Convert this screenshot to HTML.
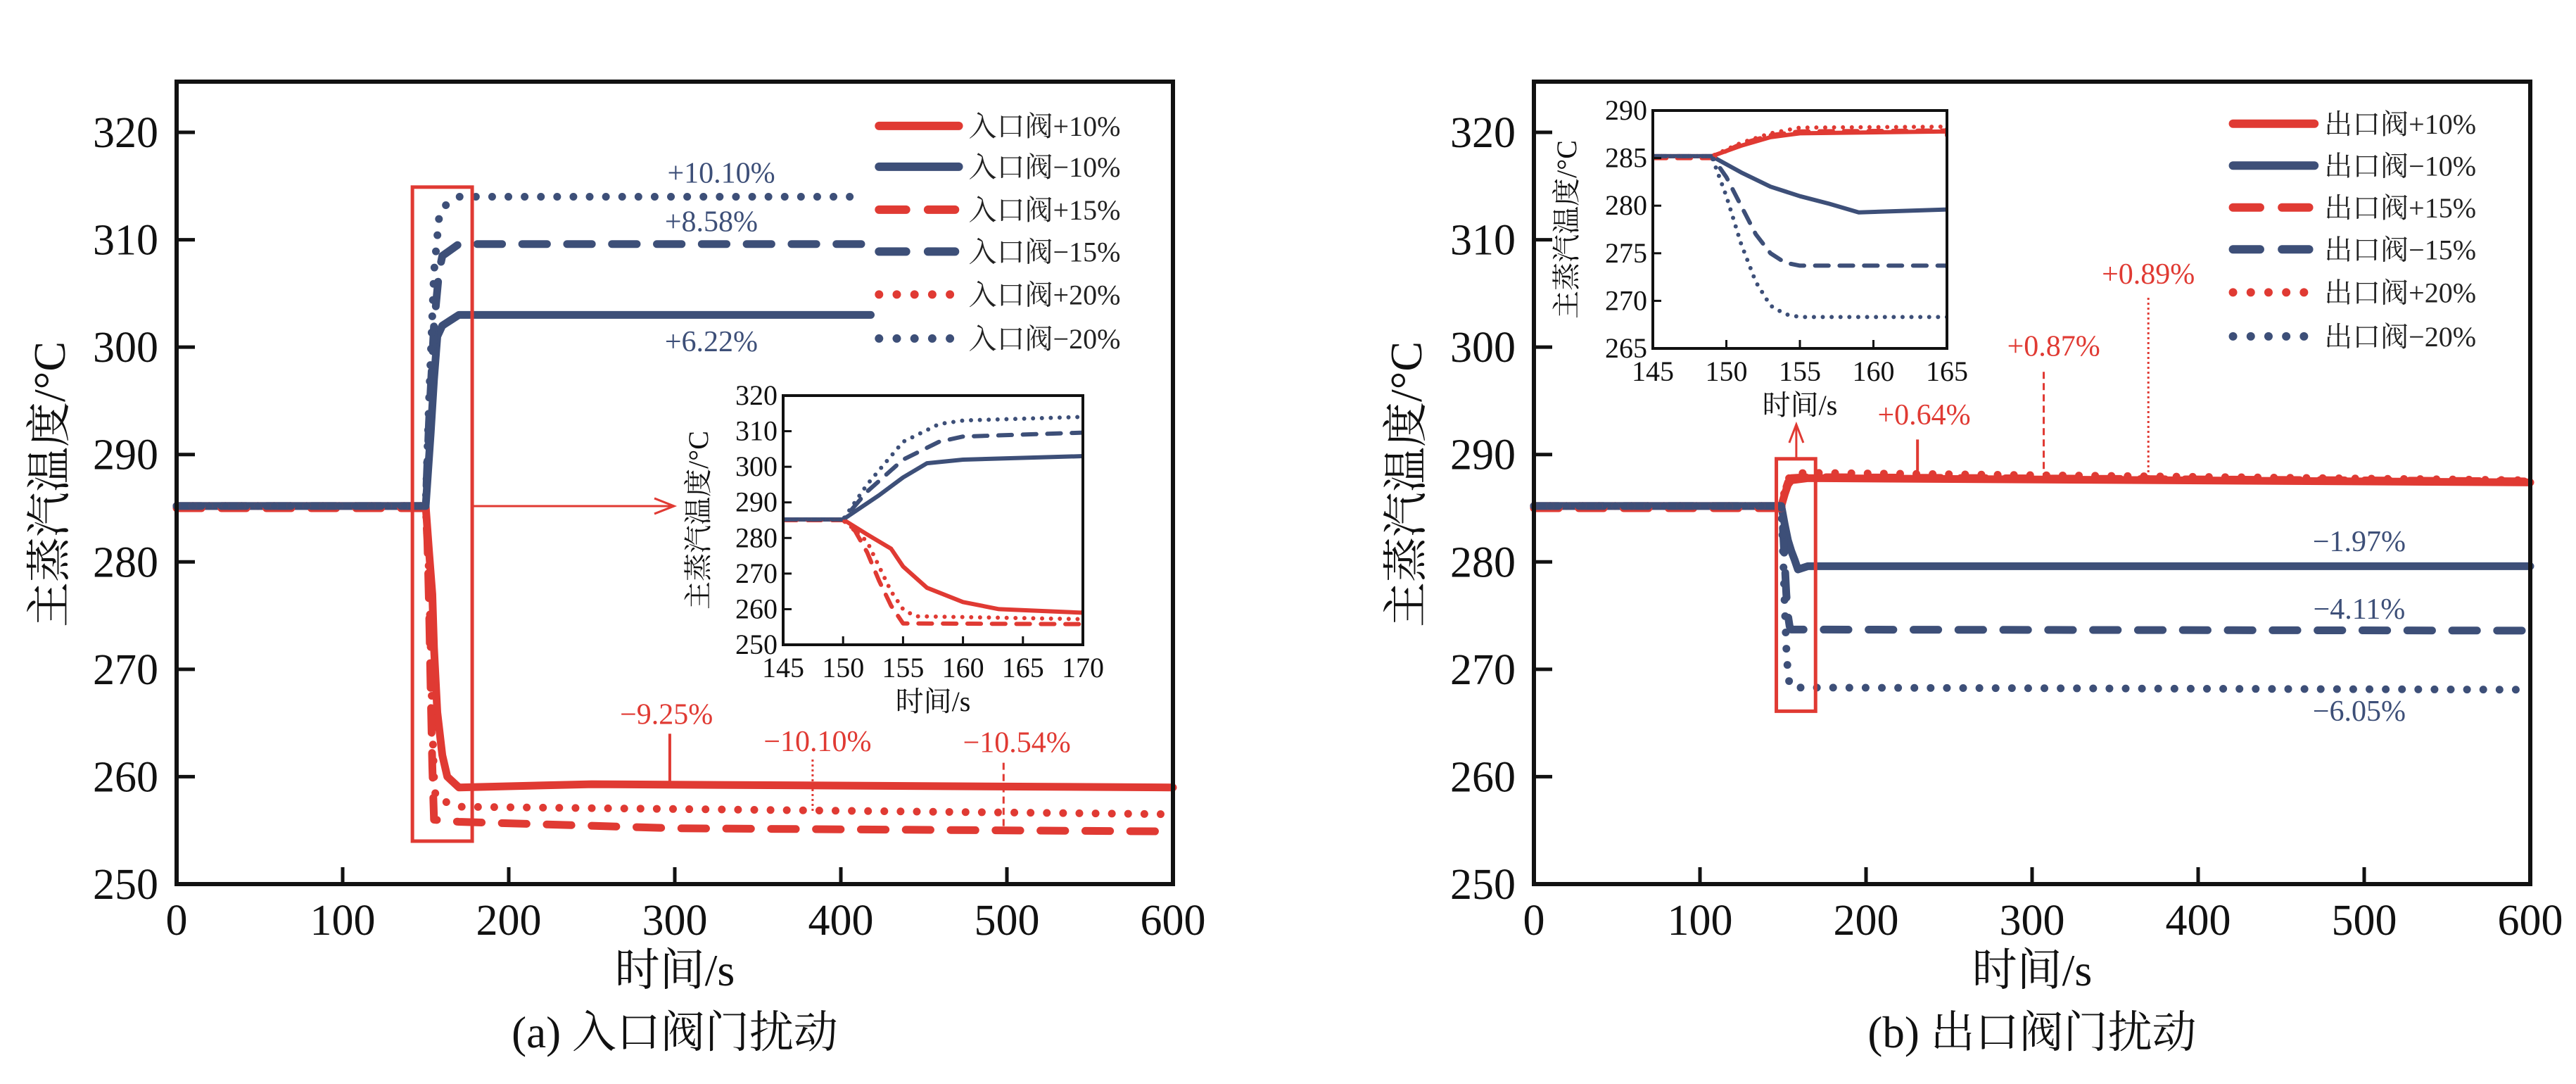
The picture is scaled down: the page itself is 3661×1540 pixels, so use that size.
<!DOCTYPE html>
<html><head><meta charset="utf-8">
<style>
html,body{margin:0;padding:0;background:#fff;}
svg{display:block;font-family:"Liberation Serif","Noto Serif CJK SC",serif;}
</style></head>
<body>
<svg id="fig" width="3661" height="1540" viewBox="0 0 3661 1540" xmlns="http://www.w3.org/2000/svg"></svg>
<script>
// ===== Data: panel (a) inlet valve =====
const aXTicks = [0,100,200,300,400,500,600];
const aYTicks = [250,260,270,280,290,300,310,320];
const aLabels = ["入口阀+10%","入口阀−10%","入口阀+15%","入口阀−15%","入口阀+20%","入口阀−20%"];
const aTimeP10 = [0,150,152,154,155,157,160,163,170,250,600];
const aValP10  = [285.2,285.2,281,277,272,266,262,260,259,259.3,259];
const aTimeM10 = [0,150,153,155,157,160,170,418];
const aValM10  = [285.2,285.2,292,297,301,302,303,303];
const aTimeP15 = [0,150,151,152,153,154,155,170,300,600];
const aValP15  = [285,285,282,276,268,261,256,255.8,255.2,254.9];
const aTimeM15 = [0,150,152,155,158,160,170,415];
const aValM15  = [285.2,285.2,293,302,307,308.5,309.6,309.6];
const aTimeP20 = [0,150,152,153,154,155,156,170,600];
const aValP20  = [285.2,285.2,279,272,265,260,258,257.2,256.5];
const aTimeM20 = [0,150,152,155,158,160,170,415];
const aValM20  = [285.2,285.2,295,307,312,313,314,314];
const aInsetXTicks = [145,150,155,160,165,170];
const aInsetYTicks = [250,260,270,280,290,300,310,320];
// ===== Data: panel (b) outlet valve =====
const bXTicks = [0,100,200,300,400,500,600];
const bYTicks = [250,260,270,280,290,300,310,320];
const bLabels = ["出口阀+10%","出口阀−10%","出口阀+15%","出口阀−15%","出口阀+20%","出口阀−20%"];
const bTimeP10 = [0,149,151,153,155,165,600];
const bValP10  = [285.2,285.2,286.3,287.2,287.6,287.8,287.4];
const bTimeM10 = [0,149,151,153,155,157,159,165,600];
const bValM10  = [285.2,285.2,283.5,282,281,280.2,279.3,279.6,279.6];
const bTimeP15 = [0,149,151,153,155,165,600];
const bValP15  = [285,285,286.5,287.4,287.8,287.9,287.5];
const bTimeM15 = [0,149,150,151,152,153,154,155,165,600];
const bValM15  = [285.2,285.2,283,280,277,275,274,273.7,273.7,273.6];
const bTimeP20 = [0,149,151,153,155,165,600];
const bValP20  = [285.2,285.2,286.6,287.6,288.2,288.3,287.6];
const bTimeM20 = [0,149,150,151,152,153,154,155,165,595];
const bValM20  = [285.2,285.2,281,276,272,269.5,268.6,268.3,268.3,268.1];
const bInsetXTicks = [145,150,155,160,165];
const bInsetYTicks = [265,270,275,280,285,290];

const RED = "#e03a33", BLUE = "#3d4f78";
const NS = "http://www.w3.org/2000/svg";
const svg = document.getElementById("fig");
function mk(tag, attrs, parent, text){
  const e = document.createElementNS(NS, tag);
  for (const k in attrs) e.setAttribute(k, attrs[k]);
  if (text !== undefined) e.textContent = text;
  (parent||svg).appendChild(e);
  return e;
}
function scale(d0,d1,p0,p1){ return v => p0 + (v-d0)*(p1-p0)/(d1-d0); }
function pathD(ts, vs, sx, sy, tmin, tmax){
  let d = "";
  for (let i=0;i<ts.length;i++){
    const t = Math.max(tmin, Math.min(tmax, ts[i]));
    d += (i? "L":"M") + sx(t).toFixed(1) + "," + sy(vs[i]).toFixed(1);
  }
  return d;
}
const styles = [
  {color:RED, dash:null}, {color:BLUE, dash:null},
  {color:RED, dash:"dash"}, {color:BLUE, dash:"dash"},
  {color:RED, dash:"dot"}, {color:BLUE, dash:"dot"}
];
function dashFor(s, w){
  if (s.dash==="dash") return (w*3.2)+" "+(w*2.6);
  if (s.dash==="dot") return "0 "+(w*2.1);
  return "none";
}
function drawLine(g, ts, vs, sx, sy, st, w, tmin, tmax, name){
  const p = mk("path", {d:pathD(ts,vs,sx,sy,tmin,tmax), fill:"none", stroke:st.color,
    "stroke-width":w, "stroke-linecap":"round", "stroke-linejoin":"round",
    "stroke-dasharray":dashFor(st,w)}, g);
  
  
  return p;
}
function text(parent, x, y, s, size, anchor, fill, name, extra){
  const t = mk("text", Object.assign({x:x, y:y, "font-size":size, "text-anchor":anchor||"middle", fill:fill||"#111"}, extra||{}), parent, s);
  
  
  return t;
}

function panel(cfg){
  const g = mk("g", {});
  
  
  const L=cfg.L, R=cfg.R, T=116, B=1256;
  const sx = scale(0,600,L,R), sy = scale(250,320,B,188);
  const series = cfg.series;
  series.forEach((s,i)=>{
    drawLine(g, s[0], s[1], sx, sy, styles[i], 11, 0, 600, "series-"+cfg.key+"-"+i);
  });
  const fr = mk("rect",{x:L,y:T,width:R-L,height:B-T,fill:"none",stroke:"#111","stroke-width":6},g);
  
  
  cfg.xt.forEach(v=>{
    const tk = mk("line",{x1:sx(v),x2:sx(v),y1:B,y2:B-24,stroke:"#111","stroke-width":5},g);
    
    
    text(g, sx(v), B+72, String(v), 62, "middle", "#111", "x-tick-label");
  });
  cfg.yt.forEach(v=>{
    const tk = mk("line",{x1:L,x2:L+26,y1:sy(v),y2:sy(v),stroke:"#111","stroke-width":5},g);
    
    
    text(g, L-26, sy(v)+21, String(v), 62, "end", "#111", "y-tick-label");
  });
  text(g, cfg.ylx, 688, "主蒸汽温度/°C", 64, "middle", "#111", "y-axis-title", {transform:"rotate(-90 "+cfg.ylx+" 688)"});
  text(g, (L+R)/2, 1400, "时间/s", 64, "middle", "#111", "x-axis-title");
  text(g, (L+R)/2, 1488, cfg.caption, 63, "middle", "#111", "panel-caption");
  cfg.labels.forEach((lab,i)=>{
    const yv = cfg.legY[i];
    const st = styles[i];
    const p = mk("line",{x1:sx(cfg.legT[0]),x2:sx(cfg.legT[1]),y1:sy(yv),y2:sy(yv),stroke:st.color,"stroke-width":12,"stroke-linecap":"round","stroke-dasharray":dashFor(st,12)},g);
    
    
    text(g, sx(cfg.legT[1])+14, sy(yv)+14, lab, 40, "start", "#222", "legend-entry");
  });
  const bx = cfg.box;
  const zb = mk("rect",{x:sx(bx[0]),y:sy(bx[3]),width:sx(bx[1])-sx(bx[0]),height:sy(bx[2])-sy(bx[3]),fill:"none",stroke:RED,"stroke-width":5},g);
  
  
  cfg.ann.forEach(a=>{
    text(g, sx(a[0]), sy(a[1]), a[2], 42, "middle", a[3], "annotation-label");
  });
  cfg.markers.forEach(m=>{
    const ln = mk("line",{x1:sx(m[0]),x2:sx(m[0]),y1:sy(m[1]),y2:sy(m[2]),stroke:RED,"stroke-width":m[3]==="solid"?4:3,"stroke-dasharray":m[3]==="solid"?"none":(m[3]==="dash"?"10 6":"3 4")},g);
    
    
  });
  const ar = cfg.arrow;
  const al = mk("line",{x1:ar[0],y1:ar[1],x2:ar[2],y2:ar[3],stroke:RED,"stroke-width":3},g);
  
  
  const ah = mk("path",{d:ar[4],fill:"none",stroke:RED,"stroke-width":3},g);
  
  
  const ins = cfg.inset;
  const ig = mk("g",{},g);
  
  
  mk("rect",{x:ins.L,y:ins.T,width:ins.R-ins.L,height:ins.B-ins.T,fill:"#fff"},ig);
  const isx = scale(ins.xr[0],ins.xr[1],ins.L,ins.R), isy = scale(ins.yr[0],ins.yr[1],ins.B,ins.T);
  const cp = mk("clipPath",{id:"clip-"+cfg.key},ig);
  mk("rect",{x:ins.L,y:ins.T,width:ins.R-ins.L,height:ins.B-ins.T},cp);
  const sg = mk("g",{"clip-path":"url(#clip-"+cfg.key+")"},ig);
  series.forEach((s,i)=>{
    drawLine(sg, s[0], s[1], isx, isy, styles[i], 6, ins.xr[0], ins.xr[1], "inset-series-"+cfg.key+"-"+i);
  });
  const ifr = mk("rect",{x:ins.L,y:ins.T,width:ins.R-ins.L,height:ins.B-ins.T,fill:"none",stroke:"#111","stroke-width":4},ig);
  
  
  ins.xt.forEach(v=>{
    const tk = mk("line",{x1:isx(v),x2:isx(v),y1:ins.B,y2:ins.B-12,stroke:"#111","stroke-width":3},ig);
    
    
    text(ig, isx(v), ins.B+46, String(v), 40, "middle", "#111", "inset-x-tick-label");
  });
  ins.yt.forEach(v=>{
    const tk = mk("line",{x1:ins.L,x2:ins.L+12,y1:isy(v),y2:isy(v),stroke:"#111","stroke-width":3},ig);
    
    
    text(ig, ins.L-8, isy(v)+13, String(v), 40, "end", "#111", "inset-y-tick-label");
  });
  text(ig, (ins.L+ins.R)/2, ins.B+94, "时间/s", 40, "middle", "#111", "inset-x-axis-title");
  const ycx = ins.ylx, ycy=(ins.T+ins.B)/2;
  text(ig, ycx, ycy, "主蒸汽温度/°C", 40, "middle", "#111", "inset-y-axis-title", {transform:"rotate(-90 "+ycx+" "+ycy+")"});
}

function sxA(v){ return 251 + v*(1416/600); }
function yA(v){ return 1256 - (v-250)*(1068/70); }
function sxB(v){ return 2180 + v*(1416/600); }
panel({
  name:"panel-a-inlet-valve", key:"a", L:251, R:1667, ylx:92, caption:"(a) 入口阀门扰动",
  xt:aXTicks, yt:aYTicks, labels:aLabels,
  series:[[aTimeP10,aValP10],[aTimeM10,aValM10],[aTimeP15,aValP15],[aTimeM15,aValM15],[aTimeP20,aValP20],[aTimeM20,aValM20]],
  legY:[320.6,316.8,312.8,308.9,304.9,300.8], legT:[423,471],
  box:[142,178,254,314.9],
  ann:[[328,315.3,"+10.10%",BLUE],[322,310.8,"+8.58%",BLUE],[322,299.6,"+6.22%",BLUE],[295,264.9,"−9.25%",RED],[386,262.4,"−10.10%",RED],[506,262.3,"−10.54%",RED]],
  markers:[[297,264,259.3,"solid"],[383,261.6,256.8,"dot"],[498,261.3,255.2,"dash"]],
  arrow:[sxA(178),yA(285.2),958,yA(285.2),"M"+(958-28)+","+(yA(285.2)-11)+" L958,"+yA(285.2)+" L"+(958-28)+","+(yA(285.2)+11)],
  inset:{L:1113,R:1539,T:562,B:916,xr:[145,170],yr:[250,320],xt:aInsetXTicks,yt:aInsetYTicks,ylx:1006}
});
panel({
  name:"panel-b-outlet-valve", key:"b", L:2180, R:3596, ylx:2020, caption:"(b) 出口阀门扰动",
  xt:bXTicks, yt:bYTicks, labels:bLabels,
  series:[[bTimeP10,bValP10],[bTimeM10,bValM10],[bTimeP15,bValP15],[bTimeM15,bValM15],[bTimeP20,bValP20],[bTimeM20,bValM20]],
  legY:[320.8,316.9,313.0,309.1,305.1,301.0], legT:[421,470],
  box:[146,169.6,266.1,289.6],
  ann:[[235,292.8,"+0.64%",RED],[313,299.2,"+0.87%",RED],[370,305.9,"+0.89%",RED],[497,281,"−1.97%",BLUE],[497,274.7,"−4.11%",BLUE],[497,265.2,"−6.05%",BLUE]],
  markers:[[231,291.4,287.8,"solid"],[307,297.7,287.8,"dash"],[370,304.6,287.8,"dot"]],
  arrow:[sxB(158),yA(289.6),sxB(158),yA(292.8),"M"+(sxB(158)-10)+","+(yA(292.8)+26)+" L"+sxB(158)+","+yA(292.8)+" L"+(sxB(158)+10)+","+(yA(292.8)+26)],
  inset:{L:2349,R:2767,T:157,B:495,xr:[145,165],yr:[265,290],xt:bInsetXTicks,yt:bInsetYTicks,ylx:2240}
});
</script>
</body></html>
